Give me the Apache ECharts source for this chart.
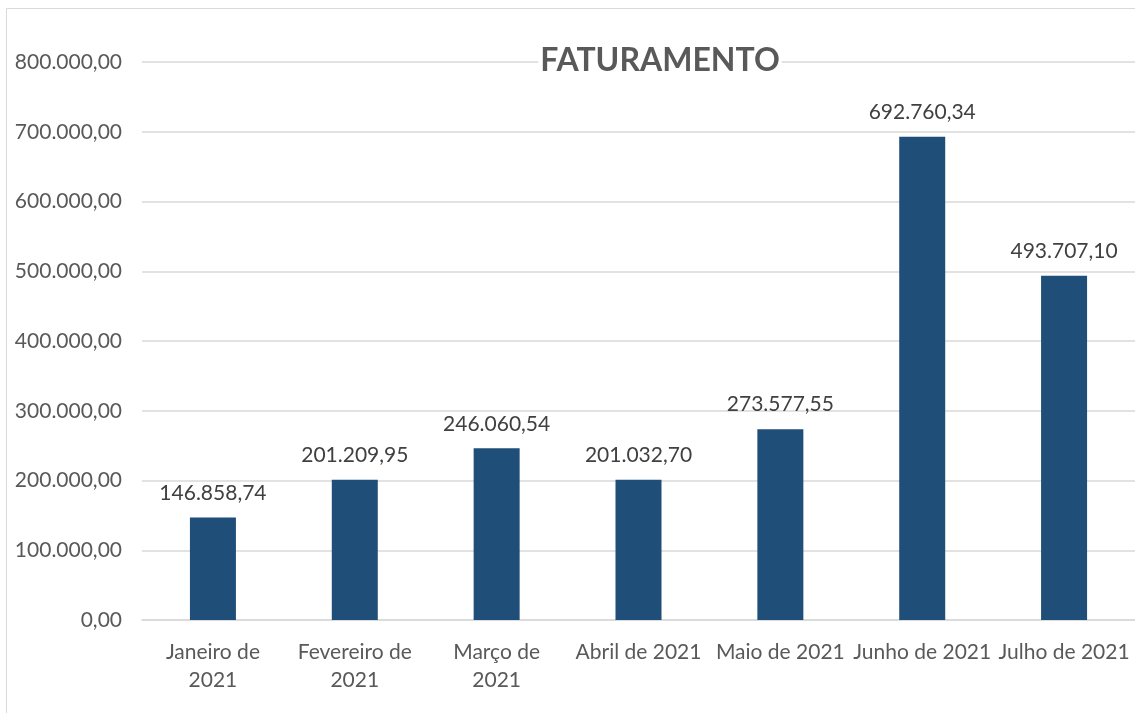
<!DOCTYPE html>
<html>
<head>
<meta charset="utf-8">
<script src="https://cdn.jsdelivr.net/npm/echarts@6/dist/echarts.min.js"></script>
<style>
  html, body { margin: 0; padding: 0; background: #fff; }
  #chart { width: 1135px; height: 713px; }
</style>
</head>
<body>
<div id="chart"></div>
<script>
// dados
var meses = ['Janeiro de\n2021', 'Fevereiro de\n2021', 'Março de\n2021', 'Abril de 2021', 'Maio de 2021', 'Junho de 2021', 'Julho de 2021'];
var faturamento = [146858.74, 201209.95, 246060.54, 201032.70, 273577.55, 692760.34, 493707.10];
var eixoMin = 0, eixoMax = 800000, eixoPasso = 100000;

// formato brasileiro: 1.234,56
function fmtBR(v) {
  var partes = Number(v).toFixed(2).split('.');
  var inteiro = partes[0].replace(/\B(?=(\d{3})+(?!\d))/g, '.');
  return inteiro + ',' + partes[1];
}

var chart = echarts.init(document.getElementById('chart'));
var option = {
  animation: false,
  textStyle: { fontFamily: 'Lato' },
  title: {
    text: 'FATURAMENTO',
    left: 658,
    top: 45,
    textAlign: 'center',
    backgroundColor: '#fff',
    padding: [0, 2],
    textStyle: { color: '#595959', fontSize: 32, fontWeight: 'bold', fontFamily: 'Lato' }
  },
  graphic: [{
    type: 'rect',
    silent: true,
    shape: { x: 6.5, y: 8.5, width: 1300, height: 900 },
    style: { fill: null, stroke: '#d9d9d9', lineWidth: 1 }
  }],
  grid: { left: 142, right: -8, top: 62, bottom: 93, containLabel: false },
  xAxis: {
    type: 'category',
    data: meses,
    axisTick: { show: false },
    axisLine: { show: true, lineStyle: { color: '#d9d9d9', width: 1.5 } },
    axisLabel: {
      interval: 0,
      margin: 18,
      color: '#595959',
      fontSize: 21,
      lineHeight: 28,
      fontFamily: 'Lato'
    }
  },
  yAxis: {
    type: 'value',
    min: eixoMin,
    max: eixoMax,
    interval: eixoPasso,
    axisLine: { show: false },
    axisTick: { show: false },
    splitLine: { lineStyle: { color: '#d9d9d9', width: 1.5 } },
    axisLabel: {
      margin: 20,
      color: '#595959',
      fontSize: 21,
      fontFamily: 'Lato',
      formatter: function (v) { return fmtBR(v); }
    }
  },
  series: [{
    type: 'bar',
    data: faturamento,
    barWidth: 46,
    itemStyle: { color: '#1F4E79' },
    label: {
      show: true,
      position: 'top',
      distance: 14,
      color: '#404040',
      fontSize: 21,
      fontFamily: 'Lato',
      formatter: function (p) { return fmtBR(p.value); }
    }
  }]
};
chart.setOption(option);
</script>
</body>
</html>
